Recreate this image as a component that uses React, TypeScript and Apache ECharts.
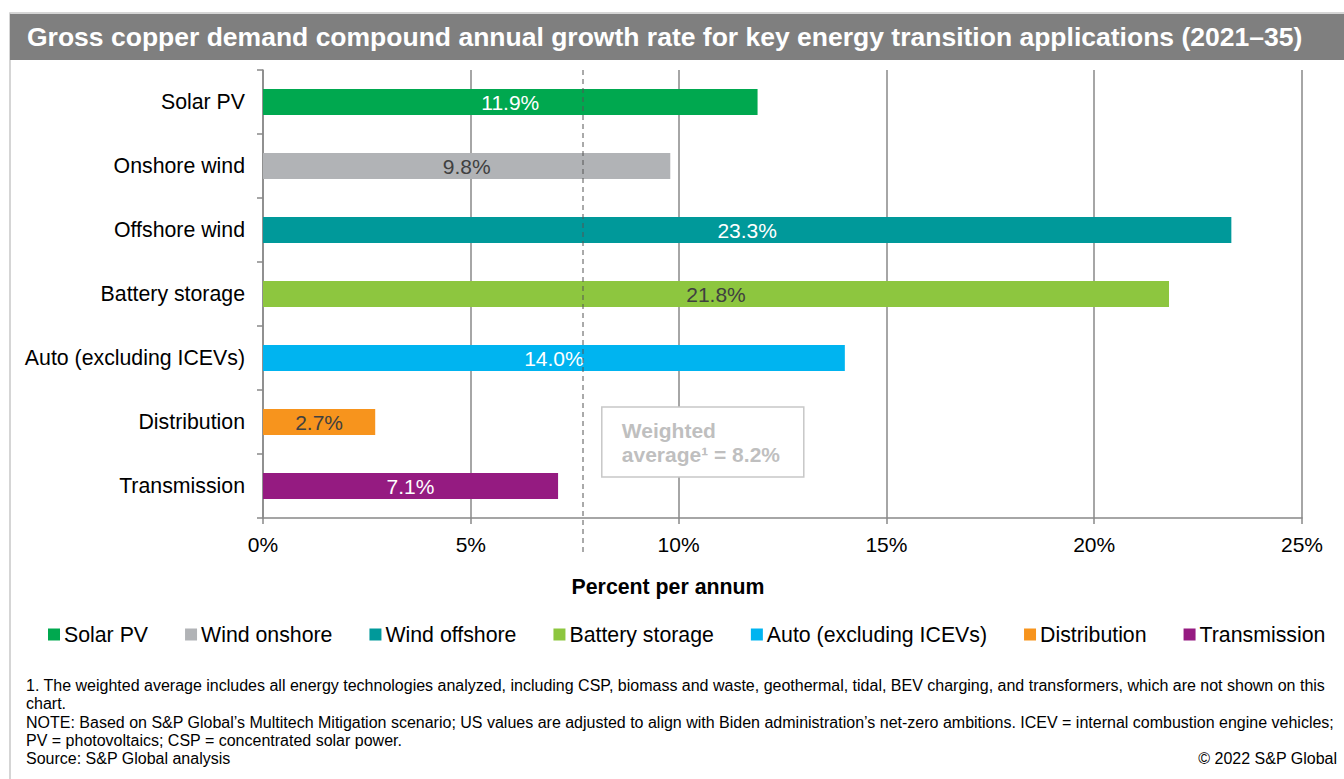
import React, { useEffect, useRef } from "react";
import * as echarts from "echarts";

const categories = [
  "Solar PV",
  "Onshore wind",
  "Offshore wind",
  "Battery storage",
  "Auto (excluding ICEVs)",
  "Distribution",
  "Transmission",
];
const seriesNames = [
  "Solar PV",
  "Wind onshore",
  "Wind offshore",
  "Battery storage",
  "Auto (excluding ICEVs)",
  "Distribution",
  "Transmission",
];
const values = [11.9, 9.8, 23.3, 21.8, 14.0, 2.7, 7.1];
const colors = ["#00a84f", "#b1b3b6", "#00999a", "#8dc63f", "#00b4f0", "#f7941d", "#951b81"];
const labelColors = ["#ffffff", "#404040", "#ffffff", "#404040", "#ffffff", "#404040", "#ffffff"];
const xTicks = { min: 0, max: 25, interval: 5 };
const weightedAverage = 8.2;
const dashedLineValue = 7.7;

const titleText =
  "Gross copper demand compound annual growth rate for key energy transition applications (2021–35)";
const axisName = "Percent per annum";
const footnotes = [
  "1. The weighted average includes all energy technologies analyzed, including CSP, biomass and waste, geothermal, tidal, BEV charging, and transformers, which are not shown on this",
  "chart.",
  "NOTE: Based on S&P Global’s Multitech Mitigation scenario; US values are adjusted to align with Biden administration’s net-zero ambitions. ICEV = internal combustion engine vehicles;",
  "PV = photovoltaics; CSP = concentrated solar power.",
  "Source: S&P Global analysis",
];
const copyright = "© 2022 S&P Global";

const FONT = "Liberation Sans, Arial, sans-serif";

export default function App() {
  const ref = useRef<HTMLDivElement>(null);
  useEffect(() => {
    if (!ref.current) return;
    const chart = echarts.init(ref.current, undefined, { renderer: "svg" });
    const series = seriesNames.map((name, i) => ({
      name,
      type: "bar",
      stack: "all",
      barWidth: 26,
      itemStyle: { color: colors[i] },
      label: {
        show: true,
        position: "inside",
        formatter: (p: any) => `${Number(p.value).toFixed(1)}%`,
        color: labelColors[i],
        fontSize: 21,
        fontFamily: FONT,
      },
      data: categories.map((_, j) => (j === i ? values[i] : "-")),
    }));

    chart.setOption({
      animation: false,
      textStyle: { fontFamily: FONT },
      title: {
        text: titleText,
        left: 22,
        top: 18,
        textStyle: { color: "#ffffff", fontSize: 26.5, fontWeight: "bold", fontFamily: FONT },
      },
      grid: { left: 263, right: 42, top: 70, bottom: 261, containLabel: false },
      xAxis: {
        type: "value",
        min: xTicks.min,
        max: xTicks.max,
        interval: xTicks.interval,
        axisLabel: {
          formatter: "{value}%",
          fontSize: 21,
          color: "#000",
          margin: 16,
          fontFamily: FONT,
        },
        axisLine: { show: true, lineStyle: { color: "#888", width: 1.5 } },
        axisTick: { show: true, length: 6, lineStyle: { color: "#888", width: 1.5 } },
        splitLine: { show: true, lineStyle: { color: "#888", width: 1.5 } },
      },
      yAxis: {
        type: "category",
        inverse: true,
        data: categories,
        axisLabel: { fontSize: 21.3, color: "#000", margin: 18, fontFamily: FONT },
        axisLine: { show: true, lineStyle: { color: "#888", width: 1.5 } },
        axisTick: { show: true, length: 6, alignWithLabel: false, lineStyle: { color: "#888", width: 1.5 } },
        splitLine: { show: false },
      },
      legend: {
        data: seriesNames,
        left: 48,
        top: 624,
        padding: 0,
        itemWidth: 12,
        itemHeight: 12,
        itemGap: 37,
        icon: "rect",
        textStyle: { fontSize: 21.3, color: "#000", fontFamily: FONT, padding: [0, 0, 0, -1] },
      },
      series,
    });

    const xAvg = chart.convertToPixel({ xAxisIndex: 0 }, weightedAverage) as number;
    const xDash = chart.convertToPixel({ xAxisIndex: 0 }, dashedLineValue) as number;

    chart.setOption({
      graphic: [
        {
          type: "rect",
          z: -10,
          shape: { x: 10, y: 13, width: 1340, height: 780 },
          style: { fill: "none", stroke: "#c8c8c8", lineWidth: 1.5 },
        },
        {
          type: "rect",
          z: -5,
          shape: { x: 10, y: 14, width: 1340, height: 46 },
          style: { fill: "#7f7f7f" },
        },
        {
          type: "line",
          z: 5,
          shape: { x1: xDash, y1: 70, x2: xDash, y2: 556 },
          style: { stroke: "#555", lineWidth: 1, lineDash: [5, 4] },
        },
        {
          type: "text",
          x: 668,
          y: 587,
          style: {
            text: axisName,
            fill: "#000",
            font: `bold 21.3px ${FONT}`,
            textAlign: "center",
            textVerticalAlign: "middle",
          },
        },
        {
          type: "group",
          z: 10,
          children: [
            {
              type: "rect",
              shape: { x: xAvg - 2, y: 407, width: 202, height: 70 },
              style: { fill: "#ffffff", stroke: "#c8c8c8", lineWidth: 1.5 },
            },
            {
              type: "text",
              x: xAvg + 18,
              y: 418,
              style: {
                text: "Weighted\naverage¹ = " + weightedAverage.toFixed(1) + "%",
                fill: "#bfbfbf",
                font: `bold 21px ${FONT}`,
                lineHeight: 24,
              },
            },
          ],
        },
        ...footnotes.map((t, i) => ({
          type: "text",
          x: 26,
          y: 677.5 + i * 18.3,
          style: { text: t, fill: "#000", font: `16px ${FONT}` },
        })),
        {
          type: "text",
          x: 1337,
          y: 750.5,
          style: { text: copyright, fill: "#000", font: `16px ${FONT}`, textAlign: "right" },
        },
      ],
    });

    return () => chart.dispose();
  }, []);
  return (
    <div
      ref={ref}
      style={{ position: "fixed", left: 0, top: 0, width: 1344, height: 779, background: "#fff" }}
    />
  );
}
